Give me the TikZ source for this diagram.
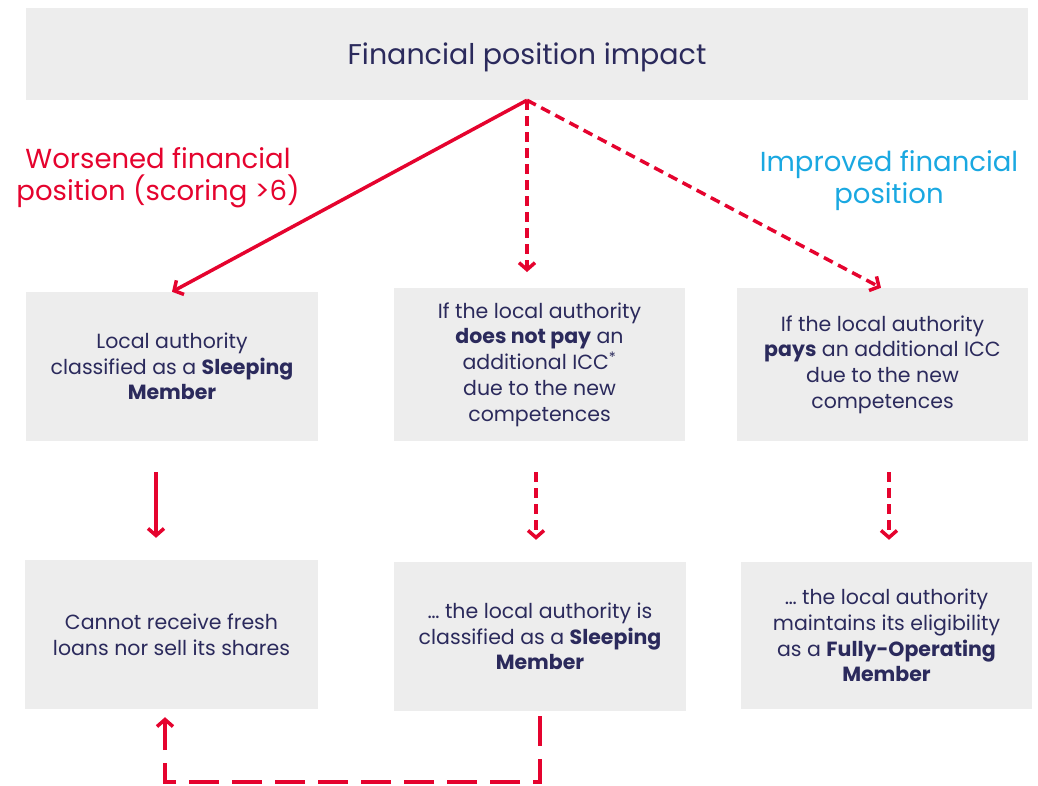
\documentclass[tikz,border=0pt]{standalone}
\usepackage{fontspec}
\setmainfont{Poppins}
\usetikzlibrary{arrows.meta}
\definecolor{impred}{HTML}{E5032E}
\definecolor{impblue}{HTML}{1AA8E1}
\definecolor{impnavy}{HTML}{2B2A5C}
\definecolor{impgrey}{HTML}{EDEDED}
\begin{document}
\begin{tikzpicture}[
    x=1pt, y=-1pt,
    box/.style={fill=impgrey, text=impnavy, align=center, inner sep=0pt,
      font=\fontsize{20.5}{25.7}\selectfont},
    arr/.style={impred, line width=3.5pt, -{Straight Barb[length=7pt, width=16pt, line width=3.5pt]}},
    dsh/.style={dash pattern=on 10pt off 6pt},
    gap/.style={shorten <=31pt, shorten >=22pt},
    lbl/.style={align=center, font=\fontsize{27.5}{32}\selectfont}
  ]
  \useasboundingbox (0,0) rectangle (1038,785);
  \node[box, minimum width=1002pt, minimum height=92pt, text depth=0pt,
    font=\fontsize{28.5}{30}\selectfont] (impact) at (527,54) {Financial position impact};
  % first row
  \node[box, minimum width=292pt, minimum height=149pt] (sleep) at (172,366.5)
    {Local authority\\classified as a \textbf{Sleeping}\\\textbf{Member}};
  \node[box, minimum width=291pt, minimum height=153pt] (nopay) at (539.5,364.5)
    {If the local authority\\\textbf{does not pay} an\\additional ICC\textsuperscript{*}\\due to the new\\competences};
  \node[box, minimum width=291pt, minimum height=153pt] (pay) at (882.5,364.5)
    {If the local authority\\\textbf{pays} an additional ICC\\due to the new\\competences};
  % second row
  \node[box, minimum width=293pt, minimum height=149pt] (noloans) at (171.5,634.5)
    {Cannot receive fresh\\loans nor sell its shares};
  \node[box, minimum width=292pt, minimum height=149pt] (nopayres) at (540,636.5)
    {\ldots{} the local authority is\\classified as a \textbf{Sleeping}\\\textbf{Member}};
  \node[box, minimum width=291pt, minimum height=147pt] (payres) at (886.5,635.5)
    {\ldots{} the local authority\\maintains its eligibility\\as a \textbf{Fully-Operating}\\\textbf{Member}};
  % labels
  \node[lbl, text=impred] (worse) at (158,178) {Worsened financial\\position (scoring >6)};
  \node[lbl, text=impblue] (better) at (889,181) {Improved financial\\position};
  % connectors
  \coordinate (mid) at (527,272);
  \draw[arr] (impact.south) -- (sleep.north);
  \draw[arr, dsh] (impact.south) -- (mid);
  \draw[arr, dsh] (impact.south) -- ([xshift=-1.5pt]pay.north);
  \draw[arr, gap] ([xshift=-16pt]sleep.south) -- ([xshift=-15.5pt]noloans.north);
  \draw[arr, dsh, gap] ([xshift=-3.5pt]nopay.south) -- ([xshift=-4pt]nopayres.north);
  \draw[arr, dsh, gap] ([xshift=6.5pt]pay.south) -- ([xshift=2.5pt]payres.north);
  \draw[arr, dash pattern=on 30pt off 13pt, shorten <=5pt, shorten >=8pt]
    (nopayres.south) -- ++(0,71) -| ([xshift=-6.5pt]noloans.south);
\end{tikzpicture}
\end{document}
